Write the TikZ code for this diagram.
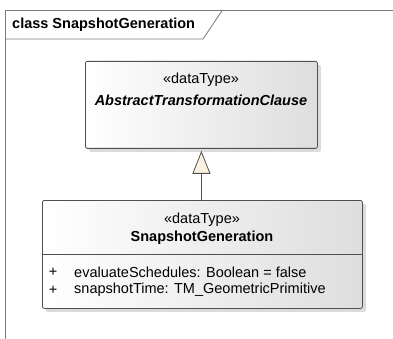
\documentclass[tikz,border=0pt]{standalone}
\usepackage{fontspec}
\setmainfont{Liberation Sans}
\usetikzlibrary{shadows,arrows.meta}
\definecolor{framecol}{HTML}{7A7A7A}
\definecolor{boxcol}{HTML}{505050}
\definecolor{cream}{HTML}{FCF0E0}
\tikzset{
  umlbox/.style={draw=boxcol, line width=0.8pt, rounded corners=2pt,
    left color=white, right color=black!13, inner sep=0pt,
    drop shadow={shadow xshift=3.5pt, shadow yshift=-3.5pt, opacity=0.35, fill=black!40}},
  txt/.style={inner sep=0pt, font=\fontsize{14.5}{17}\selectfont},
  framel/.style={draw=framecol, line width=0.8pt},
  sepl/.style={draw=boxcol, line width=0.8pt},
  gen/.style={draw=boxcol, line width=0.8pt,
    -{Triangle[length=23pt, width=18pt, fill=cream]}}
}
\begin{document}
\begin{tikzpicture}[x=1pt,y=-1pt]
\useasboundingbox[fill=white] (0,0) rectangle (393,339);
% frame
\coordinate (ftl) at (5,10);
\coordinate (ftr) at (393,10);
\coordinate (fbl) at (5,339);
\coordinate (tabl) at (5,39);
\coordinate (tabb) at (203,39);
\coordinate (tabt) at (222.5,10);
\draw[framel] (fbl) -- (ftl) -- (ftr);
\draw[framel] (tabl) -- (tabb) -- (tabt);
\node[txt, font=\fontsize{14.5}{17}\selectfont\bfseries, anchor=west] (title) at (12,25) {class SnapshotGeneration};
% upper class
\node[umlbox, minimum width=232pt, minimum height=87pt, anchor=north west] (abs) at (85,61) {};
\node[txt] (absst) at (201,80) {«dataType»};
\node[txt, font=\fontsize{14.5}{17}\selectfont\bfseries\itshape] (absname) at (201,100) {AbstractTransformationClause};
% lower class
\node[umlbox, minimum width=320pt, minimum height=108pt, anchor=north west] (sg) at (42,200) {};
\node[txt] (sgst) at (202,220) {«dataType»};
\node[txt, font=\fontsize{14.5}{17}\selectfont\bfseries] (sgname) at (202,238) {SnapshotGeneration};
\coordinate (sepL) at (42,254);
\coordinate (sepR) at (362,254);
\draw[sepl] (sepL) -- (sepR);
\node[txt] (p1) at (53,272) {+};
\node[txt, anchor=west] (a1) at (74,272) {evaluateSchedules: Boolean = false};
\node[txt] (p2) at (53,290) {+};
\node[txt, anchor=west] (a2) at (74,290) {snapshotTime: TM\_GeometricPrimitive};
% generalization
\draw[gen] (sg.north -| abs.south) -- ([yshift=-2pt]abs.south);
\end{tikzpicture}
\end{document}
